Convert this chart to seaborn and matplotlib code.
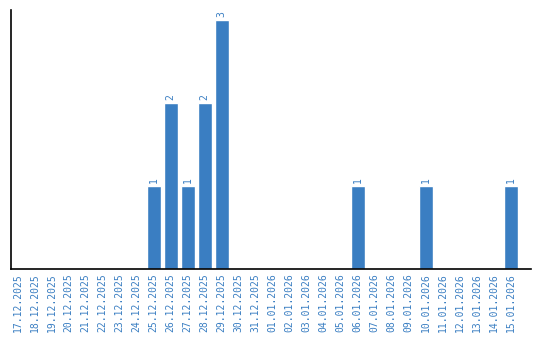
import matplotlib
matplotlib.use("Agg")
import matplotlib.pyplot as plt
import seaborn as sns
import pandas as pd

dates = ["17.12.2025", "18.12.2025", "19.12.2025", "20.12.2025", "21.12.2025",
         "22.12.2025", "23.12.2025", "24.12.2025", "25.12.2025", "26.12.2025",
         "27.12.2025", "28.12.2025", "29.12.2025", "30.12.2025", "31.12.2025",
         "01.01.2026", "02.01.2026", "03.01.2026", "04.01.2026", "05.01.2026",
         "06.01.2026", "07.01.2026", "08.01.2026", "09.01.2026", "10.01.2026",
         "11.01.2026", "12.01.2026", "13.01.2026", "14.01.2026", "15.01.2026"]
counts = [0, 0, 0, 0, 0, 0, 0, 0, 1, 2, 1, 2, 3, 0, 0,
          0, 0, 0, 0, 0, 1, 0, 0, 0, 1, 0, 0, 0, 0, 1]

df = pd.DataFrame({"date": dates, "count": counts})

sns.set_style("white")
color = "#3a7ec2"
fig = plt.figure(figsize=(5.4, 3.4), dpi=100)
ax = fig.add_axes([10.5/540, 71/340, 520/540, 259/340])
sns.barplot(data=df, x="date", y="count", color=color, saturation=1, width=0.82, ax=ax)

for i, v in enumerate(counts):
    if v > 0:
        ax.text(i, v + 0.03, str(v), rotation=90, ha="center", va="bottom",
                color=color, fontsize=7, family="DejaVu Sans Mono")

ax.set_xlim(-0.41, 30.15)
ax.set_ylim(0, 3.12)
ax.set_xlabel("")
ax.set_ylabel("")
ax.set_yticks([])
ax.tick_params(axis="x", length=0, pad=3)
plt.setp(ax.get_xticklabels(), rotation=90, color=color, fontsize=7, family="DejaVu Sans Mono")
for s in ["top", "right"]:
    ax.spines[s].set_visible(False)
for s in ["left", "bottom"]:
    ax.spines[s].set_color("black")
    ax.spines[s].set_linewidth(1.2)

fig.savefig("out.png", dpi=100)
